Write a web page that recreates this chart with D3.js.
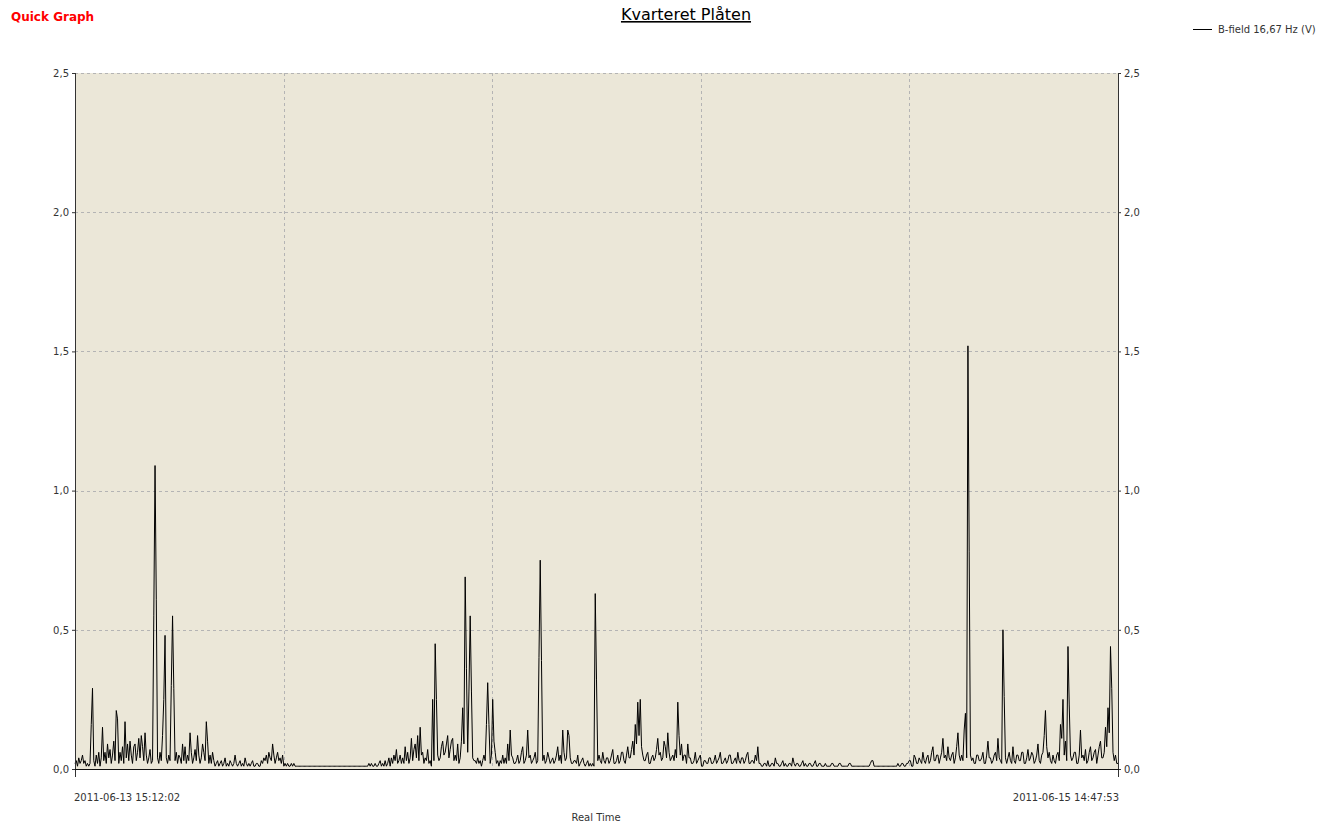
<!DOCTYPE html>
<html>
<head>
<meta charset="utf-8">
<script src="https://cdn.jsdelivr.net/npm/d3@7"></script>
<style>
  html, body { margin: 0; padding: 0; background: #ffffff; }
  svg { display: block; }
</style>
</head>
<body>
<svg id="chart" width="1335" height="825"></svg>
<script>
// B-field 16,67 Hz readings (V), evenly sampled over the logging period
const startTime = "2011-06-13 15:12:02";
const endTime = "2011-06-15 14:47:53";
const yTicks = [0, 0.5, 1.0, 1.5, 2.0, 2.5];
const seriesName = "B-field 16,67 Hz (V)";
const titleText = "Kvarteret Plåten";
const xAxisTitle = "Real Time";

const values = [
  0.02,0.03, 0.01,0.04, 0.02,0.03, 0.05,0.02, 0.03,0.01, 0.02,0.01, 0.02,0.16, 0.29,0.03, 0.01,0.05, 0.02,0.06,
  0.01,0.04, 0.15,0.03, 0.06,0.02, 0.09,0.04, 0.07,0.02, 0.05,0.10, 0.03,0.21, 0.18,0.02, 0.06,0.03, 0.08,0.02,
  0.17,0.04, 0.09,0.03, 0.10,0.05, 0.02,0.08, 0.09,0.03, 0.06,0.11, 0.04,0.12, 0.08,0.03, 0.13,0.05, 0.02,0.04,
  0.07,0.02, 0.03,0.55, 1.09,0.61, 0.04,0.02, 0.06,0.03, 0.12,0.25, 0.48,0.04, 0.02,0.05, 0.03,0.30, 0.55,0.29,
  0.03,0.06, 0.02,0.05, 0.04,0.02, 0.09,0.03, 0.08,0.02, 0.05,0.03, 0.13,0.06, 0.02,0.04, 0.07,0.03, 0.12,0.05,
  0.02,0.04, 0.09,0.06, 0.03,0.17, 0.10,0.02, 0.05,0.02, 0.06,0.03, 0.01,0.02, 0.03,0.01, 0.02,0.03, 0.01,0.02,
  0.04,0.01, 0.02,0.01, 0.03,0.02, 0.01,0.02, 0.05,0.02, 0.01,0.02, 0.03,0.01, 0.02,0.01, 0.04,0.02, 0.01,0.02,
  0.01,0.02, 0.03,0.01, 0.01,0.02, 0.02,0.01, 0.01,0.03, 0.02,0.04, 0.03,0.05, 0.02,0.06, 0.04,0.03, 0.09,0.05,
  0.02,0.04, 0.06,0.03, 0.04,0.02, 0.05,0.01, 0.02,0.01, 0.02,0.01, 0.01,0.02, 0.01,0.02, 0.01,0.01, 0.01,0.01,
  0.01,0.01, 0.01,0.01, 0.01,0.01, 0.01,0.01, 0.01,0.01, 0.01,0.01, 0.01,0.01, 0.01,0.01, 0.01,0.01, 0.01,0.01,
  0.01,0.01, 0.01,0.01, 0.01,0.01, 0.01,0.01, 0.01,0.01, 0.01,0.01, 0.01,0.01, 0.01,0.01, 0.01,0.01, 0.01,0.01,
  0.01,0.01, 0.01,0.01, 0.01,0.01, 0.01,0.01, 0.01,0.01, 0.01,0.01, 0.01,0.01,
  0.01,0.02, 0.01,0.02, 0.01,0.01, 0.02,0.01, 0.01,0.02, 0.03,0.01, 0.02,0.01, 0.03,0.01, 0.02,0.04, 0.01,0.04,
  0.02,0.05, 0.03,0.07, 0.02,0.03, 0.05,0.02, 0.04,0.02, 0.08,0.03, 0.06,0.02, 0.04,0.11, 0.03,0.07, 0.09,0.04,
  0.12,0.03, 0.15,0.05, 0.06,0.02, 0.04,0.03, 0.07,0.02, 0.03,0.01, 0.25,0.03, 0.45,0.25, 0.05,0.03, 0.04,0.08,
  0.10,0.05, 0.06,0.09, 0.12,0.04, 0.07,0.10, 0.11,0.03, 0.05,0.03, 0.09,0.02, 0.04,0.10, 0.22,0.09, 0.69,0.36,
  0.06,0.28, 0.55,0.28, 0.04,0.03, 0.03,0.02, 0.04,0.02, 0.03,0.01, 0.03,0.05, 0.03,0.16, 0.31,0.16, 0.02,0.05,
  0.25,0.10, 0.06,0.02, 0.03,0.01, 0.03,0.02, 0.05,0.02, 0.04,0.02, 0.09,0.03, 0.14,0.05, 0.04,0.02, 0.02,0.03,
  0.05,0.02, 0.03,0.06, 0.08,0.02, 0.03,0.05, 0.14,0.04, 0.05,0.02, 0.03,0.04, 0.06,0.02, 0.03,0.40, 0.75,0.39,
  0.03,0.05, 0.02,0.03, 0.06,0.04, 0.02,0.03, 0.04,0.02, 0.03,0.05, 0.08,0.03, 0.05,0.02, 0.14,0.06, 0.03,0.04,
  0.14,0.12, 0.04,0.02, 0.02,0.03, 0.03,0.02, 0.05,0.01, 0.02,0.03, 0.04,0.02, 0.01,0.02, 0.03,0.01, 0.02,0.01,
  0.02,0.01, 0.63,0.32, 0.03,0.05, 0.03,0.02, 0.06,0.03, 0.02,0.04, 0.04,0.02, 0.03,0.05, 0.07,0.02, 0.02,0.03,
  0.05,0.02, 0.03,0.06, 0.06,0.03, 0.02,0.05, 0.08,0.04, 0.04,0.07, 0.10,0.05, 0.16,0.09, 0.24,0.12, 0.25,0.08,
  0.05,0.03, 0.03,0.05, 0.06,0.02, 0.02,0.04, 0.05,0.03, 0.04,0.07, 0.11,0.05, 0.06,0.03, 0.04,0.10, 0.08,0.04,
  0.13,0.06, 0.03,0.04, 0.05,0.03, 0.07,0.04, 0.24,0.12, 0.05,0.09, 0.03,0.05, 0.05,0.02, 0.09,0.04, 0.04,0.02,
  0.02,0.03, 0.06,0.02, 0.03,0.04, 0.05,0.01, 0.01,0.03, 0.03,0.02, 0.02,0.04, 0.04,0.02, 0.02,0.03, 0.05,0.02,
  0.03,0.04, 0.06,0.02, 0.02,0.03, 0.04,0.02, 0.03,0.05, 0.05,0.02, 0.02,0.03, 0.04,0.02, 0.06,0.03, 0.02,0.04,
  0.04,0.02, 0.03,0.05, 0.06,0.02, 0.02,0.03, 0.03,0.02, 0.05,0.03, 0.08,0.02, 0.02,0.01, 0.01,0.02, 0.02,0.01,
  0.03,0.01, 0.01,0.02, 0.02,0.01, 0.04,0.02, 0.02,0.01, 0.01,0.02, 0.03,0.01, 0.02,0.01, 0.01,0.02, 0.02,0.01,
  0.04,0.02, 0.01,0.02, 0.02,0.01, 0.01,0.02, 0.03,0.01, 0.02,0.01, 0.01,0.02, 0.02,0.01, 0.01,0.02, 0.03,0.01,
  0.01,0.02, 0.02,0.01, 0.01,0.01, 0.02,0.01, 0.01,0.01, 0.01,0.02, 0.02,0.01, 0.01,0.01, 0.01,0.02, 0.02,0.01,
  0.01,0.01, 0.01,0.01, 0.01,0.02, 0.02,0.01, 0.01,0.01, 0.01,0.01, 0.01,0.01, 0.01,0.01, 0.01,0.01, 0.01,0.01,
  0.01,0.01, 0.02,0.03, 0.03,0.01, 0.01,0.01, 0.01,0.01, 0.01,0.01, 0.01,0.01, 0.01,0.01, 0.01,0.01, 0.01,0.01,
  0.01,0.01, 0.01,0.01, 0.02,0.01, 0.01,0.02, 0.02,0.01, 0.01,0.02, 0.02,0.03, 0.03,0.01, 0.01,0.05, 0.04,0.02,
  0.02,0.04, 0.03,0.02, 0.06,0.03, 0.02,0.04, 0.05,0.02, 0.03,0.06, 0.08,0.03, 0.03,0.05, 0.05,0.02, 0.04,0.06,
  0.11,0.04, 0.05,0.03, 0.08,0.04, 0.03,0.05, 0.06,0.02, 0.04,0.08, 0.13,0.05, 0.03,0.05, 0.03,0.14, 0.20,0.04,
  1.52,0.78, 0.05,0.03, 0.04,0.02, 0.02,0.05, 0.05,0.03, 0.03,0.04, 0.06,0.02, 0.02,0.05, 0.10,0.04, 0.04,0.02,
  0.03,0.05, 0.06,0.03, 0.11,0.04, 0.03,0.02, 0.50,0.26, 0.04,0.02, 0.04,0.06, 0.03,0.02, 0.08,0.03, 0.02,0.05,
  0.05,0.03, 0.03,0.06, 0.06,0.02, 0.02,0.04, 0.07,0.03, 0.04,0.06, 0.05,0.02, 0.03,0.05, 0.09,0.03, 0.02,0.05,
  0.06,0.12, 0.21,0.08, 0.04,0.06, 0.03,0.02, 0.05,0.03, 0.02,0.05, 0.06,0.03, 0.16,0.11, 0.25,0.05, 0.10,0.03,
  0.44,0.23, 0.05,0.03, 0.04,0.06, 0.06,0.02, 0.02,0.05, 0.14,0.04, 0.05,0.03, 0.07,0.02, 0.03,0.06, 0.08,0.03,
  0.04,0.06, 0.07,0.02, 0.05,0.08, 0.10,0.04, 0.04,0.06, 0.15,0.08, 0.22,0.13, 0.44,0.29, 0.06,0.03, 0.05,0.02,
  0.02
];

const parseTime = d3.timeParse("%Y-%m-%d %H:%M:%S");
const t0 = parseTime(startTime), t1 = parseTime(endTime);
const step = (t1 - t0) / (values.length - 1);
const data = values.map((v, i) => ({ t: new Date(+t0 + i * step), v }));

const svg = d3.select("#chart");
const font = "'DejaVu Sans', Verdana, sans-serif";

const margin = { left: 75, right: 1118, top: 73, bottom: 769 };

const x = d3.scaleTime().domain([t0, t1]).range([margin.left, margin.right]);
const y = d3.scaleLinear().domain([0, 2.5]).range([margin.bottom, margin.top]);

// Plot background
svg.append("rect")
  .attr("x", margin.left).attr("y", margin.top)
  .attr("width", margin.right - margin.left)
  .attr("height", margin.bottom - margin.top)
  .attr("fill", "#ebe7d8");

// Grid: horizontal at y ticks, vertical in five equal time intervals
const grid = svg.append("g").attr("stroke", "#b4b4b4").attr("stroke-dasharray", "3,3").attr("stroke-width", 1);
yTicks.filter(d => d > 0).forEach(d => {
  grid.append("line")
    .attr("x1", margin.left).attr("x2", margin.right)
    .attr("y1", Math.round(y(d)) + 0.5).attr("y2", Math.round(y(d)) + 0.5);
});
const xGrid = d3.range(1, 5).map(k => new Date(+t0 + (t1 - t0) * k / 5));
xGrid.forEach(d => {
  grid.append("line")
    .attr("x1", Math.round(x(d)) + 0.5).attr("x2", Math.round(x(d)) + 0.5)
    .attr("y1", margin.top).attr("y2", margin.bottom);
});

// Series line
const line = d3.line().x(d => x(d.t)).y(d => y(d.v));
svg.append("path")
  .datum(data)
  .attr("d", line)
  .attr("fill", "none")
  .attr("stroke", "#000")
  .attr("stroke-width", 1);

// Left and right value axes
const fmt = d => d3.format(".1f")(d).replace(".", ",");
const leftAxis = d3.axisLeft(y).tickValues(yTicks).tickFormat(fmt).tickSize(3).tickSizeOuter(0);
const rightAxis = d3.axisRight(y).tickValues(yTicks).tickFormat(fmt).tickSize(3).tickSizeOuter(0);

function styleAxis(g) {
  g.select(".domain").remove();
  g.selectAll(".tick line").attr("stroke", "#333");
  g.selectAll(".tick text").attr("fill", "#333").style("font-family", font).style("font-size", "10px");
}
svg.append("g").attr("transform", `translate(${margin.left},0)`).call(leftAxis).call(styleAxis);
svg.append("g").attr("transform", `translate(${margin.right},0)`).call(rightAxis).call(styleAxis);

// Axis lines
svg.append("line").attr("x1", margin.left + 0.5).attr("x2", margin.left + 0.5)
  .attr("y1", margin.top).attr("y2", margin.bottom + 8).attr("stroke", "#333");
svg.append("line").attr("x1", margin.right + 0.5).attr("x2", margin.right + 0.5)
  .attr("y1", margin.top).attr("y2", margin.bottom + 8).attr("stroke", "#333");
svg.append("line").attr("x1", margin.left).attr("x2", margin.right + 1)
  .attr("y1", margin.bottom + 0.5).attr("y2", margin.bottom + 0.5).attr("stroke", "#111");

// Time axis end labels
const timeFmt = d3.timeFormat("%Y-%m-%d %H:%M:%S");
svg.append("text").attr("x", x(t0) - 1).attr("y", 801)
  .attr("text-anchor", "start").attr("fill", "#333")
  .style("font-family", font).style("font-size", "10px").text(timeFmt(t0));
svg.append("text").attr("x", x(t1) + 1).attr("y", 801)
  .attr("text-anchor", "end").attr("fill", "#333")
  .style("font-family", font).style("font-size", "10px").text(timeFmt(t1));
svg.append("text").attr("x", 596).attr("y", 821)
  .attr("text-anchor", "middle").attr("fill", "#333")
  .style("font-family", font).style("font-size", "10px").text(xAxisTitle);

// Header texts
svg.append("text").attr("x", 11).attr("y", 21)
  .attr("fill", "#ff0000").style("font-family", font).style("font-weight", "bold")
  .style("font-size", "12px").text("Quick Graph");
svg.append("text").attr("x", 686).attr("y", 20)
  .attr("text-anchor", "middle").attr("fill", "#000")
  .style("font-family", font).style("font-size", "16px")
  .style("text-decoration", "underline").text(titleText);

// Legend
svg.append("line").attr("x1", 1193).attr("x2", 1212).attr("y1", 29.5).attr("y2", 29.5)
  .attr("stroke", "#000");
svg.append("text").attr("x", 1218).attr("y", 33)
  .attr("fill", "#333").style("font-family", font).style("font-size", "10px").text(seriesName);
</script>
</body>
</html>
